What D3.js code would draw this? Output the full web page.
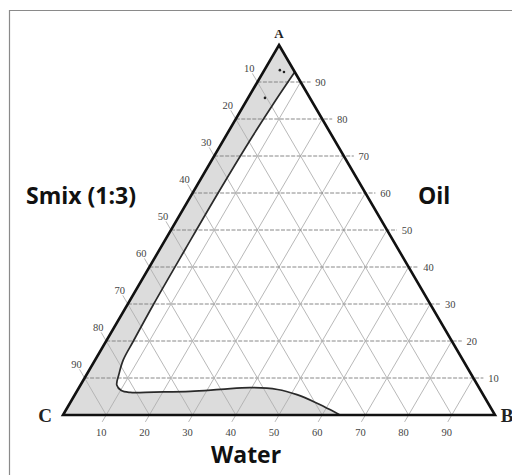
<!DOCTYPE html>
<html>
<head>
<meta charset="utf-8">
<script src="https://cdn.jsdelivr.net/npm/d3@7"></script>
<style>
  body { margin: 0; background: #fff; }
  svg { display: block; }
</style>
</head>
<body>
<script>
// tick values on each side (percent)
const ticks = [10, 20, 30, 40, 50, 60, 70, 80, 90];

// phase boundary: [oil %, water %]
const boundary = [
  [92.7, 7.3], [85, 6.7], [75, 6.2], [60, 5.9], [45, 5.9], [30, 6.0],
  [20, 6.3], [14.9, 6.5], [10.8, 7.5], [8.1, 8.4], [6.6, 10.2], [6.1, 12.5],
  [6.2, 18], [6.4, 26.3], [6.9, 33], [7.4, 39.6], [6.9, 46.2], [5.5, 51.4],
  [3.2, 57.2], [1.4, 61.2], [0, 64.1]
];

// few points near the oil corner: [oil %, water %]
const dots = [[93.2, 3.6], [92.7, 4.8], [85.7, 3.9]];

const width = 512;
const height = 475;

// ternary layout: C bottom-left (Smix), B bottom-right (Water), A top (Oil)
const x = d3.scaleLinear().domain([0, 100]).range([63, 495]);
const y = d3.scaleLinear().domain([0, 100]).range([415, 45]);

const px = (oil, water) => x(water + oil / 2);
const py = (oil) => y(oil);
const pt = (oil, water) => [px(oil, water), py(oil)];

const svg = d3.select('body')
  .append('svg')
  .attr('width', width)
  .attr('height', height);

// frame (only top and left borders are visible in the picture)
svg.append('path')
  .attr('d', `M9.5,${height}V10.5H${width}`)
  .attr('fill', 'none')
  .attr('stroke', '#8a8a8a')
  .attr('stroke-width', 1.2);

const line = d3.line().curve(d3.curveCatmullRom.alpha(0.5));

// shaded region between the Smix-Oil side and the boundary
const rev = boundary.map(d => pt(d[0], d[1])).reverse();
const A = pt(100, 0);
const C = pt(0, 0);
svg.append('path')
  .attr('d', `M${A}L${C}L${line(rev).slice(1)}Z`)
  .attr('fill', '#dcdcdc');

const grid = svg.append('g');
const tickLen = 10;
const dirUp = [-(x(50) - x(0)), y(100) - y(0)];
const n = Math.hypot(dirUp[0], dirUp[1]);
const uL = [dirUp[0] / n, dirUp[1] / n];   // up-left, along B->A
const uB = [uL[0], -uL[1]];                // down-left, along A->C

ticks.forEach((k) => {
  // constant oil (horizontal), tick to the right
  const o0 = pt(k, 0);
  const o1 = pt(k, 100 - k);
  grid.append('line')
    .attr('x1', o0[0]).attr('y1', o0[1])
    .attr('x2', o1[0] + tickLen).attr('y2', o1[1])
    .attr('stroke', '#7a7a7a')
    .attr('stroke-width', 0.9)
    .attr('stroke-dasharray', '4,1.5');
  svg.append('text')
    .attr('class', 'tick')
    .attr('x', o1[0] + 20)
    .attr('y', o1[1])
    .attr('dy', '0.35em')
    .text(k);

  // constant smix (parallel to AB), tick up-left
  const s0 = pt(100 - k, 0);
  const s1 = pt(0, 100 - k);
  grid.append('line')
    .attr('x1', s0[0] + uL[0] * tickLen).attr('y1', s0[1] + uL[1] * tickLen)
    .attr('x2', s1[0]).attr('y2', s1[1])
    .attr('stroke', '#b0b0b0')
    .attr('stroke-width', 0.9);
  svg.append('text')
    .attr('class', 'tick')
    .attr('x', s0[0] + uL[0] * 16)
    .attr('y', s0[1] + uL[1] * 16)
    .attr('dy', '0.35em')
    .text(k);

  // constant water (parallel to AC), tick down-left
  const w0 = pt(0, k);
  const w1 = pt(100 - k, k);
  grid.append('line')
    .attr('x1', w0[0] + uB[0] * 8).attr('y1', w0[1] + uB[1] * 8)
    .attr('x2', w1[0]).attr('y2', w1[1])
    .attr('stroke', '#b0b0b0')
    .attr('stroke-width', 0.9);
  svg.append('text')
    .attr('class', 'tick')
    .attr('x', w0[0] - 5)
    .attr('y', w0[1] + 17)
    .attr('dy', '0.35em')
    .text(k);
});

svg.selectAll('text.tick')
  .attr('text-anchor', 'middle')
  .attr('font-family', 'Liberation Serif, serif')
  .attr('font-size', 10.5)
  .attr('fill', '#444');

// boundary curve
svg.append('path')
  .attr('d', line(boundary.map(d => pt(d[0], d[1]))))
  .attr('fill', 'none')
  .attr('stroke', '#2a2a2a')
  .attr('stroke-width', 1.7);

svg.selectAll('circle.dot')
  .data(dots)
  .enter().append('circle')
  .attr('class', 'dot')
  .attr('cx', d => px(d[0], d[1]))
  .attr('cy', d => py(d[0]))
  .attr('r', 1.3)
  .attr('fill', '#222');

// triangle outline
const B = pt(0, 100);
svg.append('path')
  .attr('d', `M${A}L${B}L${C}Z`)
  .attr('fill', 'none')
  .attr('stroke', '#111')
  .attr('stroke-width', 2.6)
  .attr('stroke-linejoin', 'miter');

// corner letters
const corner = (t, cx, cy, size) => svg.append('text')
  .attr('x', cx).attr('y', cy)
  .attr('text-anchor', 'middle')
  .attr('dy', '0.35em')
  .attr('font-family', 'Liberation Serif, serif')
  .attr('font-weight', 'bold')
  .attr('font-size', size)
  .attr('fill', '#222')
  .text(t);
corner('A', A[0], A[1] - 12, 13);
corner('C', C[0] - 18, C[1], 19);
corner('B', B[0] + 12, B[1], 19);

// axis titles
const title = (t, tx, ty) => svg.append('text')
  .attr('x', tx).attr('y', ty)
  .attr('font-family', 'Open Sans, sans-serif')
  .attr('font-weight', 'bold')
  .attr('font-size', 23)
  .attr('fill', '#111')
  .text(t);
title('Smix (1:3)', 26, 204);
title('Oil', 418, 204);
title('Water', 211, 463);
</script>
</body>
</html>
